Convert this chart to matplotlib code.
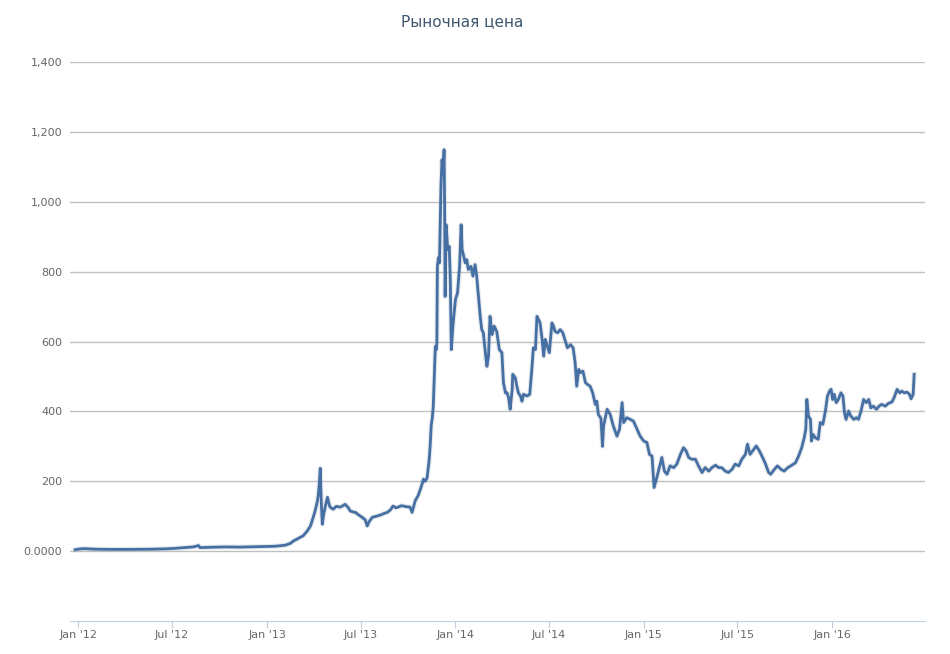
#!/usr/bin/env python3
import numpy as np
import matplotlib
matplotlib.use("Agg")
import matplotlib.pyplot as plt
import matplotlib.dates as mdates
from matplotlib.ticker import FuncFormatter

# days since 2012-01-01 and market price (USD)
days = [
    -6, 4, 14, 33, 62, 101, 140, 169, 188, 207, 223, 233, 236, 256, 285, 314,
    343, 362, 382, 401, 411, 417, 426, 436, 444, 450, 455, 459, 463, 465, 467,
    469, 471, 473, 475, 479, 483, 486, 488, 494, 500, 508, 514, 517, 523, 527,
    533, 537, 543, 550, 556, 560, 564, 570, 578, 585, 593, 599, 605, 610, 616,
    620, 626, 630, 636, 643, 647, 653, 659, 663, 667, 669, 672, 676, 680, 682,
    684, 686, 688, 690, 692, 694, 695, 696, 698, 700, 702, 703, 705, 707, 708,
    709, 710, 711, 713, 716, 719, 721, 723, 726, 731, 735, 739, 742, 744, 747,
    750, 753, 756, 761, 765, 769, 772, 775, 779, 782, 785, 789, 792, 795, 798,
    802, 806, 811, 816, 821, 824, 828, 831, 834, 837, 841, 842, 847, 850, 853,
    857, 860, 863, 870, 875, 879, 882, 886, 889, 892, 895, 899, 902, 905, 908,
    913, 918, 921, 924, 929, 934, 939, 944, 948, 954, 959, 963, 966, 970, 973,
    978, 983, 987, 992, 997, 1002, 1005, 1008, 1013, 1016, 1018, 1025, 1031,
    1037, 1044, 1049, 1054, 1057, 1063, 1070, 1076, 1083, 1089, 1096, 1102,
    1107, 1112, 1116, 1122, 1127, 1131, 1136, 1141, 1147, 1154, 1160, 1167,
    1173, 1178, 1183, 1189, 1196, 1202, 1209, 1215, 1222, 1228, 1235, 1241,
    1247, 1254, 1260, 1267, 1273, 1280, 1286, 1293, 1297, 1302, 1309, 1314,
    1320, 1325, 1331, 1338, 1342, 1349, 1355, 1362, 1368, 1375, 1383, 1390,
    1396, 1402, 1407, 1410, 1412, 1415, 1419, 1421, 1424, 1428, 1434, 1438,
    1443, 1448, 1452, 1456, 1459, 1462, 1465, 1469, 1473, 1478, 1482, 1485,
    1488, 1493, 1497, 1503, 1508, 1512, 1517, 1522, 1527, 1532, 1536, 1541,
    1547, 1552, 1557, 1564, 1570, 1577, 1581, 1587, 1592, 1596, 1601, 1606,
    1611, 1614, 1618, 1620,
]
prices = [
    4, 6.5, 7, 5.5, 5, 5, 5.5, 6.5, 8, 10, 12, 16, 10, 11, 12, 11.5,
    12.5, 13, 14, 17, 22, 29, 36, 44, 58, 72, 95, 115, 140, 158, 190,
    237, 140, 77, 100, 130, 154, 135, 126, 120, 128, 126, 131, 134, 125, 115,
    112, 111, 104, 97, 90, 72, 85, 97, 100, 103, 108, 111, 118, 129, 124,
    126, 130, 129, 127, 126, 111, 144, 160, 177, 195, 206, 200, 209, 260, 301,
    360, 380, 414, 500, 586, 577, 600, 815, 840, 825, 986, 1050, 1120, 1083, 1120,
    1149, 986, 729, 934, 863, 872, 777, 577, 644, 720, 739, 815, 934, 863, 844,
    825, 834, 806, 815, 787, 820, 790, 740, 672, 634, 625, 568, 529, 558, 672,
    620, 644, 629, 577, 568, 482, 453, 453, 439, 406, 463, 506, 496, 472, 453,
    444, 429, 449, 444, 449, 520, 582, 577, 672, 663, 653, 606, 558, 606, 591,
    568, 653, 644, 629, 625, 634, 625, 601, 582, 591, 582, 539, 472, 520, 511,
    515, 482, 477, 472, 453, 420, 429, 391, 380, 300, 358, 406, 391,
    358, 329, 349, 425, 368, 382, 377, 372, 349, 329, 315, 311,
    277, 272, 182, 215, 244, 268, 229, 220, 244, 239, 249, 277,
    296, 287, 268, 263, 263, 244, 225, 239, 229, 239, 246, 239,
    239, 229, 225, 234, 249, 244, 263, 277, 306, 277, 291, 301,
    287, 272, 253, 225, 220, 234, 244, 234, 229, 239, 246, 253,
    272, 296, 325, 349, 434, 387, 377, 315, 334, 325, 320, 368,
    363, 401, 444, 458, 463, 434, 449, 425, 434, 453, 444, 396,
    377, 401, 387, 377, 382, 377, 401, 434, 425, 434, 410, 415,
    406, 415, 420, 415, 423, 427, 439, 463, 453, 458, 453, 455,
    449, 436, 449, 506,
]

start = np.datetime64("2012-01-01")
dates = start + np.array(days).astype("timedelta64[D]")

fig = plt.figure(figsize=(9.5, 6.54), dpi=100)
ax = fig.add_axes([70 / 950, 33 / 654, 855 / 950, 559 / 654])

ax.plot(dates, prices, color="#9aa6b5", lw=3.6, alpha=0.25, zorder=2)
ax.plot(dates, prices, color="#4670a3", lw=2, zorder=3, solid_joinstyle="round")

ax.set_ylim(-200, 1400)
ax.set_xlim(start - np.timedelta64(16, "D"), start + np.timedelta64(1641, "D"))

ax.set_yticks(range(0, 1401, 200))
ax.yaxis.set_major_formatter(FuncFormatter(
    lambda v, p: "0.0000" if v == 0 else f"{int(v):,}"))
ax.grid(axis="y", color="#c0c0c0", lw=1)
ax.set_axisbelow(True)

ax.xaxis.set_major_locator(mdates.MonthLocator(bymonth=[1, 7]))
ax.xaxis.set_major_formatter(mdates.DateFormatter("%b '%y"))

for s in ["top", "right", "left"]:
    ax.spines[s].set_visible(False)
ax.spines["bottom"].set_color("#c0d0e0")
ax.tick_params(axis="y", length=0, pad=5.5, labelsize=8, labelcolor="#666666")
ax.tick_params(axis="x", length=5, color="#c0d0e0", pad=1.5, labelsize=8,
               labelcolor="#666666")

fig.text(462 / 950, 1 - 22 / 654, "Рыночная цена", ha="center", va="center",
         fontsize=11, color="#3e576f")

fig.savefig("out.png", dpi=100)
